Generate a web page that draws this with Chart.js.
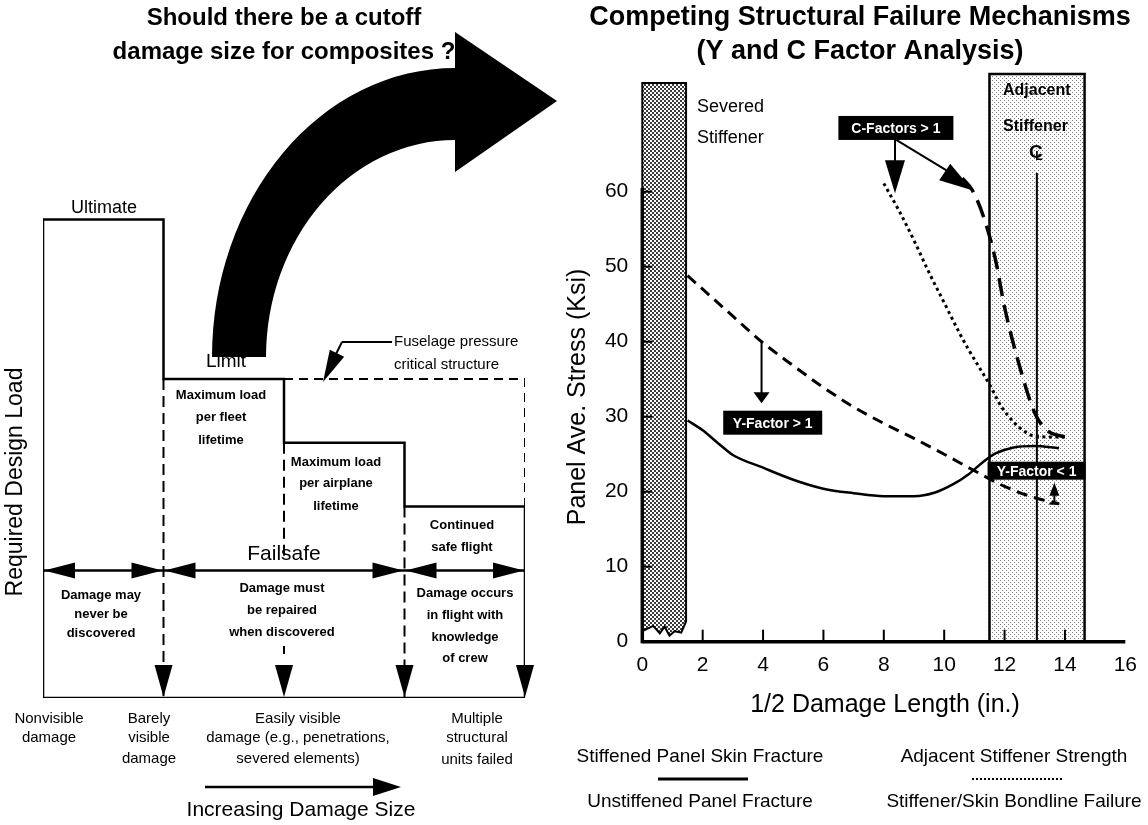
<!DOCTYPE html>
<html lang="en">
<head>
<meta charset="UTF-8">
<title>Cutoff damage size / competing failure mechanisms</title>
<style>
  html, body { margin:0; padding:0; background:#fff; }
  body { width:1148px; height:825px; position:relative; overflow:hidden; }
  #left { position:absolute; left:0; top:0; }
  #right { position:absolute; left:560px; top:0; }
</style>
</head>
<body>
<canvas id="left" width="560" height="825"></canvas>
<canvas id="right" width="588" height="825"></canvas>
<script src="https://cdn.jsdelivr.net/npm/chart.js"></script>
<script>
// ---- left diagram: required design load per damage zone (limit load = 1) ----
const zoneEdges = [0, 1, 2, 3, 4];
const loadLevels = [1.5, 1.0, 0.8, 0.6];
const fuselageLevel = 1.0;
const failsafeLevel = 0.4;
const failsafeSpans = [[0, 1], [1, 3], [3, 4]];
const downArrowsAt = [1, 2, 3, 4];

// ---- right chart: panel average stress (ksi) vs 1/2 damage length (in.) ----
const skinX = [1.5, 2, 2.5, 3, 4, 5, 6, 7, 8, 9, 9.7, 10.3, 10.8, 11.3, 11.7, 12.3, 13, 13.8];
const skinY = [29.5, 28.2, 26.5, 24.9, 23.2, 21.6, 20.4, 19.8, 19.4, 19.4, 19.9, 21, 22.3, 24, 25.1, 25.9, 26.1, 25.8];
const unstiffX = [1.5, 2, 3, 3.95, 5, 6, 7, 8, 9, 10, 11, 12, 13, 13.8];
const unstiffY = [48.8, 47, 43.4, 40, 36.8, 33.9, 31.3, 29.1, 27.1, 25, 22.8, 20.7, 19.2, 18.4];
const adjStrX = [8, 8.5, 9, 9.5, 10, 10.5, 10.8, 11.5, 11.9, 12.3, 12.6, 13, 13.5, 14];
const adjStrY = [61.1, 57.5, 53.5, 49.2, 45.2, 41.2, 39, 34.3, 31.3, 29.3, 28.2, 27.4, 27.3, 27.3];
const bondX = [10.6, 10.93, 11.3, 11.7, 12, 12.5, 13, 13.4, 14];
const bondY = [61.8, 60.2, 56.7, 50.9, 44.6, 36.7, 30.5, 28.2, 27.3];
const severedBand = [0, 1.45, 74.5];
const severedBreak = [[0, 1.4], [0.36, 2.1], [0.58, 1.1], [0.74, 2.0], [0.9, 0.8], [1.07, 1.4], [1.29, 1.2], [1.45, 2.7]];
const adjacentBand = [11.5, 14.65, 75.7];
const centerLineX = 13.07;
const xTicks = [0, 2, 4, 6, 8, 10, 12, 14, 16];
const yTicks = [0, 10, 20, 30, 40, 50, 60];

const FONT = "'Liberation Sans', Arial, Helvetica, sans-serif";

function pts(xs, ys) { return xs.map((x, i) => ({x: x, y: ys[i]})); }

function tri(ctx, tx, ty, dx, dy, len, half) {
  const n = Math.hypot(dx, dy), ux = dx / n, uy = dy / n;
  const bx = tx - ux * len, by = ty - uy * len;
  ctx.beginPath();
  ctx.moveTo(tx, ty);
  ctx.lineTo(bx - uy * half, by + ux * half);
  ctx.lineTo(bx + uy * half, by - ux * half);
  ctx.closePath();
  ctx.fill();
}

function txt(ctx, lines, x, ys, font, align) {
  ctx.font = font;
  ctx.textAlign = align || 'center';
  ctx.textBaseline = 'middle';
  ctx.fillStyle = '#000';
  lines.forEach((s, i) => ctx.fillText(s, x, ys[i]));
}

function line(ctx, x1, y1, x2, y2, w, dash) {
  ctx.save();
  ctx.lineWidth = w;
  ctx.setLineDash(dash || []);
  ctx.beginPath(); ctx.moveTo(x1, y1); ctx.lineTo(x2, y2); ctx.stroke();
  ctx.restore();
}

// step outline from the zone edges and load levels
let outline = [{x: zoneEdges[0], y: 0}];
loadLevels.forEach((lv, i) => {
  outline.push({x: zoneEdges[i], y: lv});
  outline.push({x: zoneEdges[i + 1], y: lv});
});
outline.push({x: zoneEdges[4], y: 0});
outline.push({x: zoneEdges[0], y: 0});

let dividers = [
  {x: zoneEdges[1], y: loadLevels[1]}, {x: zoneEdges[1], y: 0}, {x: zoneEdges[1], y: null},
  {x: zoneEdges[2], y: loadLevels[2]}, {x: zoneEdges[2], y: failsafeLevel + 0.04}, {x: zoneEdges[2], y: null},
  {x: zoneEdges[3], y: loadLevels[3]}, {x: zoneEdges[3], y: 0}
];

const leftDeco = {
  id: 'leftDeco',
  afterDatasetsDraw(chart) {
    const ctx = chart.ctx;
    const X = v => chart.scales.x.getPixelForValue(v);
    const Y = v => chart.scales.y.getPixelForValue(v);
    ctx.save();
    ctx.fillStyle = '#000';
    ctx.strokeStyle = '#000';

    // failsafe double arrows
    const yf = Y(failsafeLevel);
    failsafeSpans.forEach(s => {
      tri(ctx, X(s[0]) + 1, yf, -1, 0, 31, 8);
      tri(ctx, X(s[1]) - 1, yf, 1, 0, 31, 8);
    });
    // downward arrows on the baseline
    downArrowsAt.forEach(v => tri(ctx, X(v), Y(0) - 1, 0, 1, 32, 9));
    line(ctx, X(2), 646, X(2), 654, 2);

    // increasing damage arrow
    line(ctx, 205, 787, 380, 787, 2.5);
    tri(ctx, 401, 787, 1, 0, 28, 9);

    // fuselage leader
    line(ctx, 392, 342, 342, 342, 2);
    line(ctx, 342, 342, 330, 366, 2);
    tri(ctx, 323, 382, -19, 39, 32, 8);

    // big curved arrow
    ctx.beginPath();
    ctx.moveTo(212, 357);
    ctx.ellipse(455, 357, 243, 289, 0, Math.PI, Math.PI * 1.5, false);
    ctx.lineTo(455, 32);
    ctx.lineTo(557, 101);
    ctx.lineTo(455, 172);
    ctx.lineTo(455, 140);
    ctx.ellipse(455, 357, 189, 217, 0, Math.PI * 1.5, Math.PI, true);
    ctx.closePath();
    ctx.fill();

    // texts
    const B13 = 'bold 13px ' + FONT;
    txt(ctx, ['Should there be a cutoff', 'damage size for composites ?'], 284, [18, 52], 'bold 24px ' + FONT);
    txt(ctx, ['Ultimate'], 104, [208], '18px ' + FONT);
    txt(ctx, ['Limit'], 226, [362], '19px ' + FONT);
    txt(ctx, ['Maximum load', 'per fleet', 'lifetime'], 221, [395, 417, 440], B13);
    txt(ctx, ['Maximum load', 'per airplane', 'lifetime'], 336, [462, 483, 506], B13);
    txt(ctx, ['Continued', 'safe flight'], 462, [525, 547], B13);
    txt(ctx, ['Fuselage pressure', 'critical structure'], 394, [342, 365], '15px ' + FONT, 'left');
    txt(ctx, ['Failsafe'], 284, [554], '21px ' + FONT);
    txt(ctx, ['Damage may', 'never be', 'discovered'], 101, [595, 614, 633], B13);
    txt(ctx, ['Damage must', 'be repaired', 'when discovered'], 282, [588, 610, 632], B13);
    txt(ctx, ['Damage occurs', 'in flight with', 'knowledge', 'of crew'], 465, [593, 615, 637, 658], B13);
    const R15 = '15px ' + FONT;
    txt(ctx, ['Nonvisible', 'damage'], 49, [719, 738], R15);
    txt(ctx, ['Barely', 'visible', 'damage'], 149, [719, 738, 759], R15);
    txt(ctx, ['Easily visible', 'damage (e.g., penetrations,', 'severed elements)'], 298, [719, 738, 759], R15);
    txt(ctx, ['Multiple', 'structural', 'units failed'], 477, [719, 738, 760], R15);
    txt(ctx, ['Increasing Damage Size'], 301, [810], '21px ' + FONT);
    ctx.translate(16, 482);
    ctx.rotate(-Math.PI / 2);
    txt(ctx, ['Required Design Load'], 0, [0], '23px ' + FONT);
    ctx.restore();
  }
};

new Chart(document.getElementById('left'), {
  type: 'line',
  data: {
    datasets: [
      {data: outline, borderColor: '#000', borderWidth: 2.5, pointRadius: 0, tension: 0},
      {data: [{x: 2, y: fuselageLevel}, {x: 4, y: fuselageLevel}, {x: 4, y: loadLevels[3]}],
       borderColor: '#000', borderWidth: 2, borderDash: [9, 6], pointRadius: 0, tension: 0},
      {data: dividers, borderColor: '#000', borderWidth: 2, borderDash: [11, 6], pointRadius: 0, tension: 0, spanGaps: false},
      {data: [{x: 0, y: failsafeLevel}, {x: 4, y: failsafeLevel}], borderColor: '#000', borderWidth: 2.5, pointRadius: 0}
    ]
  },
  options: {
    responsive: false, animation: false,
    layout: {padding: {left: 43, right: 35, top: 60, bottom: 127}},
    scales: {
      x: {type: 'linear', min: 0, max: 4, display: false},
      y: {type: 'linear', min: 0, max: 2, display: false}
    },
    plugins: {legend: {display: false}, tooltip: {enabled: false}}
  },
  plugins: [leftDeco]
});

// ---- right chart ----
function makePattern(size, bg, fg, dots) {
  const c = document.createElement('canvas');
  c.width = size; c.height = size;
  const g = c.getContext('2d');
  g.fillStyle = bg; g.fillRect(0, 0, size, size);
  g.fillStyle = fg;
  dots.forEach(d => g.fillRect(d[0], d[1], d[2], d[2]));
  return c;
}

const rightDeco = {
  id: 'rightDeco',
  beforeDatasetsDraw(chart) {
    const ctx = chart.ctx;
    const X = v => chart.scales.x.getPixelForValue(v);
    const Y = v => chart.scales.y.getPixelForValue(v);
    ctx.save();
    // severed stiffener band
    const pDark = ctx.createPattern(makePattern(4, '#fff', '#3a3a3a', [[0, 0, 2], [2, 2, 2]]), 'repeat');
    ctx.beginPath();
    ctx.moveTo(X(severedBand[0]), Y(severedBand[2]));
    ctx.lineTo(X(severedBand[1]), Y(severedBand[2]));
    for (let i = severedBreak.length - 1; i >= 0; i--) ctx.lineTo(X(severedBreak[i][0]), Y(severedBreak[i][1]));
    ctx.closePath();
    ctx.fillStyle = pDark; ctx.fill();
    ctx.lineWidth = 2; ctx.strokeStyle = '#000'; ctx.stroke();

    // adjacent stiffener band
    const pLight = ctx.createPattern(makePattern(4, '#fff', '#7a7a7a', [[0, 0, 1], [2, 2, 1]]), 'repeat');
    const ax0 = X(adjacentBand[0]), ax1 = X(adjacentBand[1]), aTop = Y(adjacentBand[2]);
    ctx.fillStyle = pLight;
    ctx.fillRect(ax0, aTop, ax1 - ax0, Y(0) - aTop);
    ctx.beginPath();
    ctx.moveTo(ax0, Y(0)); ctx.lineTo(ax0, aTop); ctx.lineTo(ax1, aTop); ctx.lineTo(ax1, Y(0));
    ctx.lineWidth = 2.5; ctx.stroke();

    // centre line with its symbol
    const cx = X(centerLineX);
    line(ctx, cx, Y(0), cx, Y(62.5), 2);
    txt(ctx, ['C'], cx - 1, [153], 'bold 19px ' + FONT);
    txt(ctx, ['L'], cx + 2, [157], 'bold 12px ' + FONT);
    ctx.restore();
  },
  afterDatasetsDraw(chart) {
    const ctx = chart.ctx;
    const X = v => chart.scales.x.getPixelForValue(v);
    const Y = v => chart.scales.y.getPixelForValue(v);
    const OX = 560;
    ctx.save();
    ctx.fillStyle = '#000'; ctx.strokeStyle = '#000';

    // axes and inward tick marks
    line(ctx, X(0), Y(0), X(16), Y(0), 3.5);
    line(ctx, X(0), Y(0) + 1.5, X(0), Y(60.5), 3.5);
    xTicks.slice(1, -1).forEach(v => line(ctx, X(v), Y(0), X(v), Y(0) - 12, 2));
    yTicks.slice(1).forEach(v => line(ctx, X(0), Y(v), X(0) + 10, Y(v), 2));

    // titles and labels
    txt(ctx, ['Competing Structural Failure Mechanisms', '(Y and C Factor Analysis)'], 860 - OX, [18, 52], 'bold 27px ' + FONT);
    txt(ctx, ['Severed', 'Stiffener'], 697 - OX, [107, 138], '18px ' + FONT, 'left');
    txt(ctx, ['Adjacent', 'Stiffener'], 1003 - OX, [91, 127], 'bold 16px ' + FONT, 'left');
    txt(ctx, ['1/2 Damage Length (in.)'], 885 - OX, [705], '25px ' + FONT);
    ctx.save();
    ctx.translate(578 - OX, 397);
    ctx.rotate(-Math.PI / 2);
    txt(ctx, ['Panel Ave. Stress (Ksi)'], 0, [0], '25px ' + FONT);
    ctx.restore();

    // factor boxes
    function box(label, cx, cy, w, h) {
      const px = X(cx), py = Y(cy);
      ctx.fillStyle = '#000';
      ctx.fillRect(px - w / 2, py - h / 2, w, h);
      ctx.font = 'bold 14px ' + FONT;
      ctx.fillStyle = '#fff'; ctx.textAlign = 'center'; ctx.textBaseline = 'middle';
      ctx.fillText(label, px, py + 1);
      ctx.fillStyle = '#000';
    }
    box('C-Factors > 1', 8.4, 68.5, 115, 24);
    box('Y-Factor > 1', 4.32, 29.2, 99, 24);
    box('Y-Factor < 1', 13.06, 22.8, 98, 18);

    // C-factor arrows
    line(ctx, X(8.37), Y(67), X(8.37), Y(61), 2);
    tri(ctx, X(8.37), Y(59.8), 0, 1, 33, 10);
    line(ctx, X(8.37), Y(67), X(10.5), Y(61.8), 2);
    tri(ctx, X(10.93), Y(60.2), X(10.93) - X(8.37), Y(60.2) - Y(67), 33, 10);
    // Y-factor arrows
    line(ctx, X(3.95), Y(40), X(3.95), Y(33), 2);
    tri(ctx, X(3.95), Y(31.8), 0, 1, 11, 8);
    line(ctx, X(13.65), Y(18.4), X(13.65), Y(20.5), 2);
    tri(ctx, X(13.65), Y(21.2), 0, -1, 13, 5);
    line(ctx, X(13.65) - 5, Y(18.4), X(13.65) + 5, Y(18.4), 2);

    // legend
    const L = '19px ' + FONT;
    txt(ctx, ['Stiffened Panel Skin Fracture', 'Unstiffened Panel Fracture'], 700 - OX, [757, 802], L);
    line(ctx, 658 - OX, 779, 748 - OX, 779, 3);
    txt(ctx, ['Adjacent Stiffener Strength', 'Stiffener/Skin Bondline Failure'], 1014 - OX, [757, 802], L);
    line(ctx, 972 - OX, 779, 1063 - OX, 779, 2, [2, 2]);
    ctx.restore();
  }
};

new Chart(document.getElementById('right'), {
  type: 'line',
  data: {
    datasets: [
      {label: 'Stiffened Panel Skin Fracture', data: pts(skinX, skinY), borderColor: '#000', borderWidth: 2.5,
       pointRadius: 0, cubicInterpolationMode: 'monotone'},
      {label: 'Unstiffened Panel Fracture', data: pts(unstiffX, unstiffY), borderColor: '#000', borderWidth: 3,
       borderDash: [11, 7], pointRadius: 0, cubicInterpolationMode: 'monotone'},
      {label: 'Adjacent Stiffener Strength', data: pts(adjStrX, adjStrY), borderColor: '#000', borderWidth: 3,
       borderDash: [3, 3.5], pointRadius: 0, cubicInterpolationMode: 'monotone'},
      {label: 'Stiffener/Skin Bondline Failure', data: pts(bondX, bondY), borderColor: '#000', borderWidth: 3.5,
       borderDash: [18, 9], pointRadius: 0, cubicInterpolationMode: 'monotone'}
    ]
  },
  options: {
    responsive: false, animation: false,
    layout: {padding: {left: 0, right: 16.3, top: 71.7, bottom: 0}},
    scales: {
      x: {type: 'linear', min: 0, max: 16,
          afterFit(s) { s.height = 183.3; },
          afterBuildTicks(s) { s.ticks = xTicks.map(v => ({value: v})); },
          grid: {display: false, drawTicks: false}, border: {display: false},
          ticks: {padding: 11, color: '#000', font: {family: FONT, size: 21}, maxRotation: 0}},
      y: {type: 'linear', min: 0, max: 76,
          afterFit(s) { s.width = 82.3; },
          afterBuildTicks(s) { s.ticks = yTicks.map(v => ({value: v})); },
          grid: {display: false, drawTicks: false}, border: {display: false},
          ticks: {padding: 14, color: '#000', font: {family: FONT, size: 21}}}
    },
    plugins: {legend: {display: false}, tooltip: {enabled: false}}
  },
  plugins: [rightDeco]
});
</script>
</body>
</html>
